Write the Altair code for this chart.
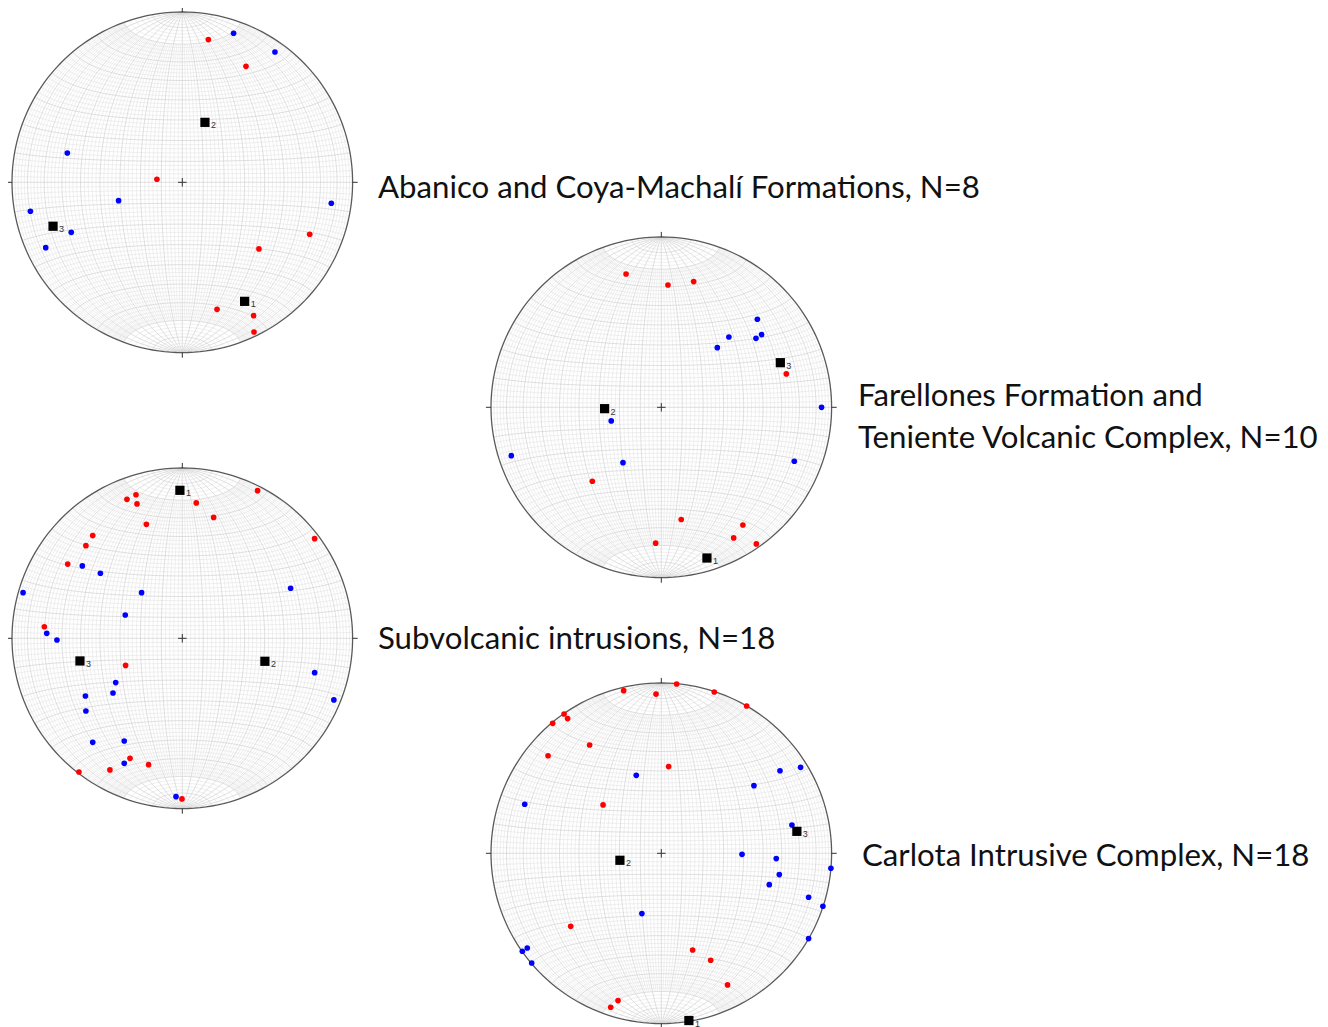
import altair as alt
import numpy as np
import pandas as pd

# ---------------- data (normalised net coordinates, x east, y north) ----------------
# Net 1: Abanico and Coya-Machalí Formations
n1_red_x = [0.153, 0.374, -0.149, 0.748, 0.450, 0.204, 0.419, 0.421]
n1_red_y = [0.838, 0.681, 0.018, -0.305, -0.391, -0.746, -0.783, -0.879]
n1_blue_x = [0.301, 0.544, -0.675, -0.374, -0.892, -0.652, -0.802, 0.875]
n1_blue_y = [0.875, 0.765, 0.172, -0.108, -0.170, -0.294, -0.384, -0.123]
n1_sq_x = [0.366, 0.133, -0.759]
n1_sq_y = [-0.699, 0.352, -0.258]

# Net 2: Farellones Formation and Teniente Volcanic Complex
n2_red_x = [-0.207, 0.039, 0.190, 0.734, -0.405, 0.117, 0.479, 0.425, 0.558, -0.033]
n2_red_y = [0.783, 0.718, 0.738, 0.196, -0.434, -0.659, -0.691, -0.767, -0.802, -0.798]
n2_blue_x = [0.564, 0.397, 0.556, 0.589, 0.329, 0.941, -0.294, -0.881, -0.225, 0.781]
n2_blue_y = [0.517, 0.413, 0.405, 0.427, 0.350, 0.000, -0.080, -0.284, -0.325, -0.317]
n2_sq_x = [0.268, -0.333, 0.699]
n2_sq_y = [-0.885, -0.008, 0.262]

# Net 3: Subvolcanic intrusions
n3_red_x = [0.442, -0.325, -0.272, -0.266, 0.082, 0.184, -0.211, -0.526, -0.566,
            0.777, -0.673, -0.810, -0.333, -0.307, -0.198, -0.425, -0.607, -0.002]
n3_red_y = [0.867, 0.816, 0.843, 0.789, 0.795, 0.710, 0.669, 0.603, 0.544,
            0.585, 0.436, 0.068, -0.159, -0.705, -0.742, -0.773, -0.785, -0.943]
n3_blue_x = [-0.587, -0.481, -0.935, -0.239, 0.636, -0.335, -0.796, -0.736, 0.777,
             0.890, -0.391, -0.407, -0.569, -0.566, -0.526, -0.341, -0.341, -0.037]
n3_blue_y = [0.425, 0.382, 0.268, 0.268, 0.294, 0.137, 0.029, -0.010, -0.202,
             -0.362, -0.260, -0.321, -0.339, -0.427, -0.611, -0.603, -0.734, -0.930]
n3_sq_x = [-0.014, 0.485, -0.601]
n3_sq_y = [0.869, -0.135, -0.133]

# Net 4: Carlota Intrusive Complex
n4_red_x = [0.090, -0.221, -0.031, 0.311, 0.501, -0.571, -0.550, -0.638, -0.421,
            -0.665, 0.043, -0.342, -0.532, 0.184, 0.290, 0.389, -0.254, -0.297]
n4_red_y = [0.994, 0.955, 0.935, 0.947, 0.865, 0.818, 0.791, 0.763, 0.636,
            0.573, 0.509, 0.284, -0.429, -0.568, -0.628, -0.773, -0.865, -0.904]
n4_blue_x = [-0.147, 0.697, 0.818, 0.544, -0.802, 0.767, 0.474, 0.675, 0.996,
             0.693, 0.634, 0.865, 0.949, 0.865, -0.114, -0.787, -0.816, -0.761]
n4_blue_y = [0.458, 0.485, 0.505, 0.397, 0.288, 0.166, -0.006, -0.031, -0.088,
             -0.125, -0.184, -0.258, -0.311, -0.501, -0.354, -0.556, -0.575, -0.644]
n4_sq_x = [0.162, -0.243, 0.796]
n4_sq_y = [-0.982, -0.041, 0.129]

sq_labels = ["1", "2", "3"]

titles = [
    ["Abanico and Coya-Machalí Formations, N=8"],
    ["Farellones Formation and", "Teniente Volcanic Complex, N=10"],
    ["Subvolcanic intrusions, N=18"],
    ["Carlota Intrusive Complex, N=18"],
]

# ---------------- layout ----------------
W, H = 1312, 1019
R = 170.3
centers = [(182.3, 182.3), (661.3, 407.3), (182.3, 638.3), (661.3, 853.3)]
title_pos = [(378, 198, 42), (858, 406, 42), (378, 649, 42), (862, 866, 42)]
FONT = "Lato"
FSIZE = 31.2

nets = [
    (n1_red_x, n1_red_y, n1_blue_x, n1_blue_y, n1_sq_x, n1_sq_y),
    (n2_red_x, n2_red_y, n2_blue_x, n2_blue_y, n2_sq_x, n2_sq_y),
    (n3_red_x, n3_red_y, n3_blue_x, n3_blue_y, n3_sq_x, n3_sq_y),
    (n4_red_x, n4_red_y, n4_blue_x, n4_blue_y, n4_sq_x, n4_sq_y),
]

# ---------------- equal-area (Schmidt) net grid ----------------
def proj(lam, phi):
    lam = np.radians(lam)
    phi = np.radians(phi)
    k = np.sqrt(2.0 / (1.0 + np.cos(phi) * np.cos(lam)))
    return k * np.cos(phi) * np.sin(lam) / np.sqrt(2), k * np.sin(phi) / np.sqrt(2)

minor_rows, major_rows = [], []
lid = 0
for lam in range(-88, 89, 2):
    major = lam % 10 == 0
    lim = 90 if major else 70
    phis = np.linspace(-lim, lim, 61)
    xs, ys = proj(lam, phis)
    tgt = major_rows if major else minor_rows
    for i, (a, b) in enumerate(zip(xs, ys)):
        tgt.append((lid, i, round(float(a), 4), round(float(b), 4)))
    lid += 1
for phi in range(-88, 89, 2):
    major = phi % 10 == 0
    lams = np.linspace(-90, 90, 61)
    xs, ys = proj(lams, phi)
    tgt = major_rows if major else minor_rows
    for i, (a, b) in enumerate(zip(xs, ys)):
        tgt.append((lid, i, round(float(a), 4), round(float(b), 4)))
    lid += 1
minor_df = pd.DataFrame(minor_rows, columns=["lid", "i", "x", "y"])
major_df = pd.DataFrame(major_rows, columns=["lid", "i", "x", "y"])

t = np.linspace(0, 2 * np.pi, 181)
prim_df = pd.DataFrame({"lid": 0, "i": np.arange(len(t)),
                        "x": np.round(np.cos(t), 4), "y": np.round(np.sin(t), 4)})

tick_df = pd.DataFrame({
    "x": [0, 0, 1.0, -1.0, -0.025, 0],
    "y": [1.0, -1.0, 0, 0, 0, -0.025],
    "x2": [0, 0, 1.03, -1.03, 0.025, 0],
    "y2": [1.03, -1.03, 0, 0, 0, 0.025],
})

X = alt.X("px:Q", scale=alt.Scale(domain=[8, 8 + W], nice=False, zero=False), axis=None)
Y = alt.Y("py:Q", scale=alt.Scale(domain=[8, 8 + H], nice=False, zero=False, reverse=True), axis=None)

layers = []
pt_rows, sq_rows, txt_rows = [], [], []
for n, ((cx, cy), d) in enumerate(zip(centers, nets)):
    calc = dict(px=f"{cx} + {R} * datum.x", py=f"{cy} - {R} * datum.y")
    layers.append(alt.Chart(minor_df).mark_line(stroke="#e4e4e4", strokeWidth=0.6)
                  .transform_calculate(**calc)
                  .encode(x=X, y=Y, detail="lid:N", order="i:Q"))
    layers.append(alt.Chart(major_df).mark_line(stroke="#d3d3d3", strokeWidth=0.7)
                  .transform_calculate(**calc)
                  .encode(x=X, y=Y, detail="lid:N", order="i:Q"))
    layers.append(alt.Chart(prim_df).mark_line(stroke="#5a5a5a", strokeWidth=1.3)
                  .transform_calculate(**calc)
                  .encode(x=X, y=Y, order="i:Q"))
    layers.append(alt.Chart(tick_df).mark_rule(stroke="#333333", strokeWidth=1)
                  .transform_calculate(px=f"{cx} + {R} * datum.x", py=f"{cy} - {R} * datum.y",
                                       px2=f"{cx} + {R} * datum.x2", py2=f"{cy} - {R} * datum.y2")
                  .encode(x=X, y=Y, x2="px2:Q", y2="py2:Q"))
    rx, ry, bx, by, sx, sy = d
    for a, b in zip(rx, ry):
        pt_rows.append((cx + R * a, cy - R * b, "red"))
    for a, b in zip(bx, by):
        pt_rows.append((cx + R * a, cy - R * b, "blue"))
    for a, b, l in zip(sx, sy, sq_labels):
        sq_rows.append((cx + R * a, cy - R * b, l))
    tx, ty, lh = title_pos[n]
    for j, line in enumerate(titles[n]):
        txt_rows.append((tx, ty + j * lh, line))

pt_df = pd.DataFrame(pt_rows, columns=["px", "py", "kind"])
sq_df = pd.DataFrame(sq_rows, columns=["px", "py", "lbl"])
txt_df = pd.DataFrame(txt_rows, columns=["px", "py", "txt"])

layers.append(alt.Chart(pt_df).mark_circle(size=32, opacity=1).encode(
    x=X, y=Y,
    color=alt.Color("kind:N", scale=alt.Scale(domain=["red", "blue"], range=["#ff0000", "#0000ff"]),
                    legend=None)))
layers.append(alt.Chart(sq_df).mark_square(size=85, color="#000000", opacity=1).encode(x=X, y=Y))
layers.append(alt.Chart(sq_df).mark_text(align="left", baseline="middle", dx=6, dy=3,
                                         fontSize=9, font="Arial", color="#333333")
              .encode(x=X, y=Y, text="lbl:N"))
layers.append(alt.Chart(txt_df).mark_text(align="left", baseline="alphabetic",
                                          fontSize=FSIZE, font=FONT, color="#111111")
              .encode(x=X, y=Y, text="txt:N"))

chart = alt.layer(*layers).properties(
    width=W, height=H, padding=0, autosize=alt.AutoSizeParams(type="none")
).configure_view(stroke=None)

chart.save("out.html", embed_options={"renderer": "svg", "actions": False})
